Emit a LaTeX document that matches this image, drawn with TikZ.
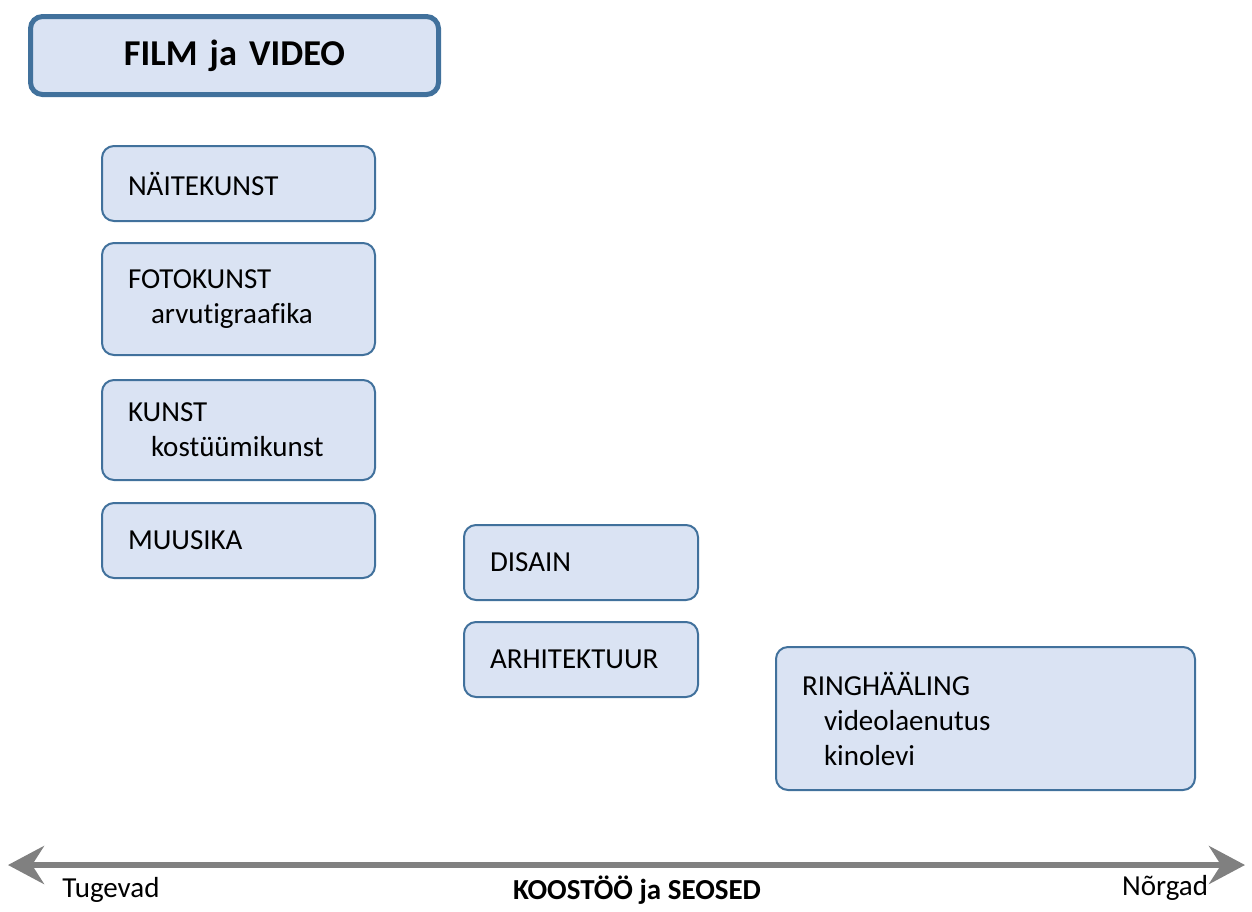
\documentclass[tikz,border=0pt]{standalone}
\usepackage{fontspec}
\setmainfont[Ligatures={NoCommon,NoContextual,NoRare},RawFeature={-calt}]{Carlito}
\usetikzlibrary{arrows.meta}
\definecolor{boxfill}{HTML}{DAE3F3}
\definecolor{boxline}{HTML}{41719C}
\definecolor{axisgray}{HTML}{808080}
\begin{document}
\begin{tikzpicture}[x=0.5pt,y=-0.5pt,
    field/.style={draw=boxline,line width=1pt,fill=boxfill,rounded corners=6pt,
        anchor=north west,align=left,inner xsep=13pt,inner ysep=0pt,
        font=\fontsize{14.5}{17.5}\selectfont},
    title/.style={field,line width=2.5pt,align=center,inner xsep=0pt,
        font=\fontsize{18.2}{22}\selectfont\bfseries},
    scale label/.style={font=\fontsize{14.5}{17.5}\selectfont}]
    \useasboundingbox (0,0) rectangle (1252,911);
    % heading
    \node[title,text width=204pt,minimum height=39pt] (film) at (28,14) {FILM ja VIDEO};
    % strong links
    \node[field,text width=110.5pt,minimum height=37.5pt] (naite) at (101,145) {NÄITEKUNST};
    \node[field,text width=110.5pt,minimum height=56pt] (foto) at (101,242)
        {FOTOKUNST\\\hspace*{11.5pt}arvut\kern0pt igraafika};
    \node[field,text width=110.5pt,minimum height=50pt] (kunst) at (101,379)
        {KUNST\\\hspace*{11.5pt}kostüümikunst};
    \node[field,text width=110.5pt,minimum height=37.5pt] (muusika) at (101,502) {MUUSIKA};
    % middle
    \node[field,text width=91pt,minimum height=37.5pt] (disain) at (463,524) {DISAIN};
    \node[field,text width=91pt,minimum height=37.5pt] (arhit) at (463,621) {ARHITEKTUUR};
    % weak links
    \node[field,text width=183.5pt,minimum height=71.5pt] (ring) at (775,646)
        {RINGHÄÄLING\\\hspace*{11pt}videolaenutus\\\hspace*{11pt}kinolevi};
    % scale
    \coordinate (strong) at (8,865);
    \coordinate (weak) at (1245,865);
    \draw[axisgray,line width=3pt,
        {Stealth[length=18pt,width=19pt,inset=6pt]}-{Stealth[length=18pt,width=19pt,inset=6pt]}]
        (strong) -- (weak);
    \node[scale label] (tugevad) at (111,890) {Tugevad};
    \node[scale label,font=\fontsize{14.5}{17.5}\selectfont\bfseries] (koostoo) at (637,890) {KOOSTÖÖ ja SEOSED};
    \node[scale label] (norgad) at (1165,888) {Nõrgad};
\end{tikzpicture}
\end{document}
